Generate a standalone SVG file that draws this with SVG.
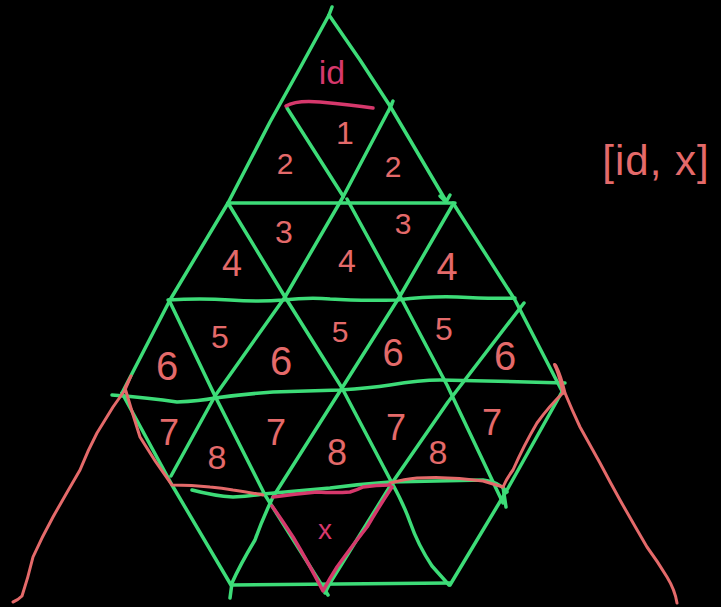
<svg xmlns="http://www.w3.org/2000/svg" width="721" height="607" viewBox="0 0 721 607">
<style>
.g{fill:none;stroke:#3ddc78;stroke-width:3.5;stroke-linecap:round;stroke-linejoin:round}
.p{fill:none;stroke:#e46a6a;stroke-width:3;stroke-linecap:round;stroke-linejoin:round}
.m{fill:none;stroke:#d6386c;stroke-width:3.5;stroke-linecap:round;stroke-linejoin:round}
.t{font-family:"Liberation Sans",Arial,sans-serif;fill:#e46a6a;text-anchor:middle}
.tm{font-family:"Liberation Sans",Arial,sans-serif;fill:#d6386c;text-anchor:middle}
</style>
<rect width="721" height="607" fill="#000"/>
<g id="connectors">
<g id="grid">
<path class="g" d="M332,7 L329,15 L300,68 L270,122 L228,203 L170,300 L122,393"/>
<path class="g" d="M329,15 L360,60 L390,106 L446,201 M440,196 L446,202 L450,195"/>
<path class="g" d="M453,203 L515,300 L563,393"/>
<path class="g" d="M287,108 L343,196"/>
<path class="g" d="M393,101 L388,112 M392,104 L343,197"/>
<path class="g" d="M228,203 L455,203"/>
<path class="g" d="M347,199 L400,296 L447,385 L503,503 M503,487 L506,507"/>
<path class="g" d="M228,203 L285,297 L342,388 L392,483 Q404,505 410,522 Q418,545 432,566 L449,585"/>
<path class="g" d="M169,300 L215,396 L265,495 L328,595"/>
<path class="g" d="M122,393 L172,485 L231,585"/>
<path class="g" d="M343,197 L285,297 L215,396 L171,476"/>
<path class="g" d="M452,206 L400,296 L342,388 L273,497 Q262,520 255,540 Q240,565 232,583 L230,598"/>
<path class="g" d="M524,303 L448,402 L392,483 L330,583 L325,593"/>
<path class="g" d="M563,390 L507,490 L450,585"/>
<path class="g" d="M168,300 Q200,298 230,300 Q260,302 283,300 Q310,297 330,299 Q360,301 397,300 Q430,296 457,297 Q490,299 515,298"/>
<path class="g" d="M112,395 Q150,398 177,402 Q200,401 215,398 Q245,394 273,392 Q310,391 340,390 Q370,388 390,385 Q420,380 440,380 Q500,381 565,383"/>
<path class="g" d="M192,490 Q215,496 233,497 Q250,496 263,494 L330,488 Q360,484 390,482 L483,480 Q500,482 507,492"/>
<path class="g" d="M232,585 L450,583"/>
</g>
<g id="annotations">
<path class="p" d="M13,602 Q18,600 22,596 Q28,578 33,557 Q42,537 53,517 Q66,494 80,470 Q88,450 97,433 Q105,420 113,407 L125,390 L131,376 L125,388 Q132,412 140,437 Q155,462 172,485 Q192,485 210,487 Q222,488 233,490 Q248,492 263,495"/>
<path class="p" d="M390,483 Q405,479 417,478 Q450,476 483,481 L503,487 Q507,478 513,470 Q524,445 537,423 Q550,405 563,393 Q560,378 556,368 Q553,362 556,366 Q561,376 565,393 Q572,410 580,427 Q590,445 600,463 Q610,482 620,500 Q633,523 647,547 Q658,562 667,577 Q675,590 677,603"/>
<path class="m" d="M286,106 Q296,100 320,102 Q352,105 373,108"/>
<path class="m" d="M273,497 Q295,494 317,492 Q335,493 350,492 Q357,490 363,487 Q376,485 390,485"/>
<path class="m" d="M272,506 Q282,520 293,537 Q308,562 323,591 Q330,578 337,567 Q352,546 367,527 Q380,505 392,487"/>
</g>
</g>
<g id="labels">
<text class="tm" x="332" y="84" font-size="34">id</text>
<text class="t" x="345" y="144" font-size="32">1</text>
<text class="t" x="285" y="174" font-size="30">2</text>
<text class="t" x="393" y="177" font-size="30">2</text>
<text class="t" x="284" y="243" font-size="32">3</text>
<text class="t" x="403" y="234" font-size="30">3</text>
<text class="t" x="232" y="276" font-size="36">4</text>
<text class="t" x="347" y="272" font-size="32">4</text>
<text class="t" x="447" y="280" font-size="38">4</text>
<text class="t" x="220" y="348" font-size="32">5</text>
<text class="t" x="340" y="342" font-size="30">5</text>
<text class="t" x="444" y="340" font-size="32">5</text>
<text class="t" x="167" y="380" font-size="40">6</text>
<text class="t" x="281" y="375" font-size="40">6</text>
<text class="t" x="393" y="366" font-size="38">6</text>
<text class="t" x="505" y="370" font-size="40">6</text>
<text class="t" x="169" y="445" font-size="36">7</text>
<text class="t" x="276" y="445" font-size="36">7</text>
<text class="t" x="396" y="440" font-size="36">7</text>
<text class="t" x="492" y="435" font-size="36">7</text>
<text class="t" x="217" y="469" font-size="34">8</text>
<text class="t" x="337" y="465" font-size="36">8</text>
<text class="t" x="438" y="464" font-size="34">8</text>
<text class="tm" x="325" y="539" font-size="28">x</text>
<text class="t" x="656" y="175" font-size="42" letter-spacing="1">[id, x]</text>
</g>
</svg>
